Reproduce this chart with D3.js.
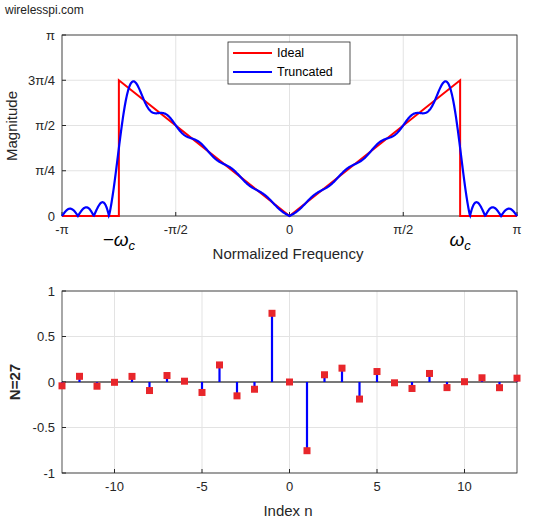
<!DOCTYPE html>
<html><head><meta charset="utf-8">
<script src="https://cdn.jsdelivr.net/npm/d3@7"></script>
<style>body{margin:0;background:#fff}text{font-family:Arial,"Liberation Sans",sans-serif}</style>
</head><body><svg id="c" width="533" height="531"></svg>
<script>
const PI = Math.PI;
// Stem values h[n], n = -13..13
const indices = d3.range(-13, 14);
const hPos = [0.0421, -0.0625, 0.0463, 0.0032, -0.0617, 0.0938, -0.0712, -0.0088, 0.115, -0.1875, 0.152, 0.0796, -0.755]; // n=13..1
const stemValues = [...hPos.map(v => -v), 0, ...hPos.slice().reverse()];
const cutoff = 0.75 * PI;
const idealPts = [[-PI,0],[-cutoff,0],[-cutoff,0.75*PI],[0,0],[cutoff,0.75*PI],[cutoff,0],[PI,0]];
const topXTicks = [-PI,-PI/2,0,PI/2,PI], topXLabels = ["-π","-π/2","0","π/2","π"];
const topYTicks = [0,PI/4,PI/2,3*PI/4,PI], topYLabels = ["0","π/4","π/2","3π/4","π"];
const botXTicks = [-10,-5,0,5,10], botYTicks = [-1,-0.5,0,0.5,1];

// truncated response from the stems
const w = d3.range(0, 1001).map(i => -PI + 2*PI*i/1000);
const trunc = w.map(om => { let re=0, im=0; indices.forEach((n,k)=>{re+=stemValues[k]*Math.cos(om*n); im-=stemValues[k]*Math.sin(om*n);}); return [om, Math.hypot(re,im)]; });

const svg = d3.select("#c");
const L=62, R=517;
svg.append("text").attr("x",5).attr("y",14).attr("font-size",12).attr("fill","#222").text("wirelesspi.com");

function panel(x, y, xt, yt, xl, yl, T, B){
  const g = svg.append("g");
  xt.forEach(v=>g.append("line").attr("x1",x(v)).attr("x2",x(v)).attr("y1",T).attr("y2",B).attr("stroke","#e3e3e3"));
  yt.forEach(v=>g.append("line").attr("y1",y(v)).attr("y2",y(v)).attr("x1",L).attr("x2",R).attr("stroke","#e3e3e3"));
  g.append("rect").attr("x",L).attr("y",T).attr("width",R-L).attr("height",B-T).attr("fill","none").attr("stroke","#262626").attr("stroke-width",0.8);
  xt.forEach((v,i)=>{g.append("line").attr("x1",x(v)).attr("x2",x(v)).attr("y1",B).attr("y2",B-4).attr("stroke","#262626");
    g.append("text").attr("x",x(v)).attr("y",B+18).attr("text-anchor","middle").attr("font-size",13).attr("fill","#262626").text(xl[i]);});
  yt.forEach((v,i)=>{g.append("line").attr("y1",y(v)).attr("y2",y(v)).attr("x1",L).attr("x2",L+4).attr("stroke","#262626");
    g.append("text").attr("x",L-7).attr("y",y(v)+4.5).attr("text-anchor","end").attr("font-size",13).attr("fill","#262626").text(yl[i]);});
  return g;
}

// Top
const x1 = d3.scaleLinear().domain([-PI,PI]).range([L,R]);
const y1 = d3.scaleLinear().domain([0,PI]).range([216,35]);
const g1 = panel(x1,y1,topXTicks,topYTicks,topXLabels,topYLabels,35,216);
const ln = d3.line().x(d=>x1(d[0])).y(d=>y1(d[1]));
g1.append("path").attr("d",ln(idealPts)).attr("fill","none").attr("stroke","#ff0000").attr("stroke-width",2);
g1.append("path").attr("d",ln(trunc)).attr("fill","none").attr("stroke","#0000ff").attr("stroke-width",2.2);
svg.append("text").attr("x",288).attr("y",259).attr("text-anchor","middle").attr("font-size",15).attr("fill","#262626").text("Normalized Frequency");
svg.append("text").attr("transform","translate(17,126) rotate(-90)").attr("text-anchor","middle").attr("font-size",15).attr("fill","#262626").text("Magnitude");
[[-cutoff,"−ω"],[cutoff,"ω"]].forEach(d=>{
  const t = svg.append("text").attr("x",x1(d[0])).attr("y",246).attr("text-anchor","middle").attr("font-size",19).attr("font-style","italic").attr("font-family","Times New Roman,Liberation Serif,serif").attr("fill","#000");
  t.append("tspan").text(d[1]); t.append("tspan").attr("font-size",13).attr("dy",4).text("c");
});
// legend
const lg = svg.append("g");
lg.append("rect").attr("x",228).attr("y",42).attr("width",122).attr("height",42).attr("fill","#fff").attr("stroke","#262626").attr("stroke-width",0.8);
[["Ideal","#ff0000"],["Truncated","#0000ff"]].forEach((d,i)=>{
  lg.append("line").attr("x1",233).attr("x2",272).attr("y1",53+i*19).attr("y2",53+i*19).attr("stroke",d[1]).attr("stroke-width",2);
  lg.append("text").attr("x",277).attr("y",57+i*19).attr("font-size",12.5).attr("fill","#000").text(d[0]);
});

// Bottom
const x2 = d3.scaleLinear().domain([-13,13]).range([L,R]);
const y2 = d3.scaleLinear().domain([-1,1]).range([473,291]);
const g2 = panel(x2,y2,botXTicks,botYTicks,botXTicks.map(String),["-1","-0.5","0","0.5","1"],291,473);
g2.append("line").attr("x1",L).attr("x2",R).attr("y1",y2(0)).attr("y2",y2(0)).attr("stroke","#000").attr("stroke-width",1);
indices.forEach((n,k)=>{
  g2.append("line").attr("x1",x2(n)).attr("x2",x2(n)).attr("y1",y2(0)).attr("y2",y2(stemValues[k])).attr("stroke","#0000ff").attr("stroke-width",2.2);
});
indices.forEach((n,k)=>{
  g2.append("rect").attr("x",x2(n)-3.5).attr("y",y2(stemValues[k])-3.5).attr("width",7).attr("height",7).attr("fill","#e8262b");
});
svg.append("text").attr("x",288).attr("y",516).attr("text-anchor","middle").attr("font-size",15).attr("fill","#262626").text("Index n");
svg.append("text").attr("transform","translate(20,382) rotate(-90)").attr("text-anchor","middle").attr("font-size",15).attr("font-weight","bold").attr("fill","#262626").text("N=27");
</script></body></html>
